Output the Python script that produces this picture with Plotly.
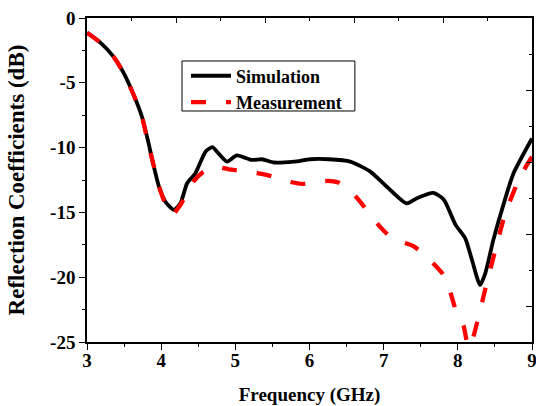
import plotly.graph_objects as go

# Simulation (black solid)
sim_f = [3.00, 3.18, 3.36, 3.49, 3.63, 3.74, 3.83, 3.88, 3.97, 4.06, 4.17, 4.26, 4.35, 4.46,
         4.60, 4.69, 4.77, 4.89, 5.02, 5.22, 5.36, 5.52, 5.79, 6.01, 6.26, 6.55, 6.82, 7.04,
         7.31, 7.45, 7.67, 7.81, 7.97, 8.10, 8.19, 8.30, 8.37, 8.48, 8.62, 8.75, 9.00]
sim_db = [-1.13, -1.9, -3.0, -4.2, -5.94, -7.6, -9.66, -10.95, -13.0, -14.2, -14.8, -14.3, -12.75, -12.0,
          -10.3, -9.97, -10.43, -11.08, -10.6, -10.95, -10.9, -11.15, -11.08, -10.9, -10.9, -11.08, -11.85, -13.0,
          -14.3, -13.9, -13.5, -14.0, -15.96, -17.0, -18.65, -20.6, -19.7, -17.1, -14.3, -12.0, -9.3]

# Measurement (red dashed)
meas_f = [3.00, 3.18, 3.36, 3.49, 3.63, 3.74, 3.83, 3.90, 3.97, 4.06, 4.15, 4.25, 4.35, 4.44,
          4.56, 4.71, 4.90, 5.22, 5.42, 5.70, 5.90, 6.24, 6.39, 6.55, 6.70, 6.95, 7.11, 7.40,
          7.56, 7.79, 7.88, 7.97, 8.08, 8.14, 8.19, 8.39, 8.53, 8.64, 8.84, 9.00]
meas_db = [-1.13, -1.9, -3.0, -4.2, -5.94, -7.6, -9.8, -11.4, -13.0, -14.4, -15.2, -14.5, -13.5, -12.6,
           -11.9, -11.46, -11.66, -11.9, -12.1, -12.6, -12.8, -12.57, -12.7, -13.3, -14.3, -16.1, -17.0, -17.6,
           -18.3, -19.7, -20.8, -22.5, -23.8, -25.4, -24.96, -20.45, -17.37, -15.06, -12.24, -10.7]

x_ticks = [3, 4, 5, 6, 7, 8, 9]
x_ticktext = ["3", "4", "5", "6", "7", "8", "9"]
y_ticks = [0, -5, -10, -15, -20, -25]
y_ticktext = ["0", "-5", "-10", "-15", "-20", "-25"]

FONT = "Liberation Serif, Times New Roman, serif"

fig = go.Figure()
fig.add_trace(go.Scatter(x=sim_f, y=sim_db, mode="lines", name="Simulation",
                         line=dict(color="black", width=3.8, shape="spline", smoothing=0.6)))
fig.add_trace(go.Scatter(x=meas_f, y=meas_db, mode="lines", name="Measurement",
                         line=dict(color="#ff0000", width=4.3, dash="15px,20px", shape="spline", smoothing=0.5)))
# dummy trace to carry the mirrored top/right axes
fig.add_trace(go.Scatter(x=[None], y=[None], xaxis="x2", yaxis="y2", showlegend=False,
                         hoverinfo="skip"))

# legend frame
fig.add_shape(type="rect", xref="paper", yref="paper",
              x0=0.2135, x1=0.602, y0=0.713, y1=0.8673,
              line=dict(color="black", width=1), fillcolor="white", layer="above")

fig.update_layout(
    width=536, height=406,
    margin=dict(l=87, r=4, t=18, b=64, autoexpand=False),
    paper_bgcolor="white", plot_bgcolor="white",
    font=dict(family=FONT, color="black", size=18, weight=700),
    showlegend=True,
    legend=dict(x=0.2225, y=0.878, xanchor="left", yanchor="top",
                borderwidth=0, bgcolor="rgba(0,0,0,0)",
                font=dict(family=FONT, size=18, weight=700),
                tracegroupgap=0, itemwidth=40),
    xaxis=dict(range=[3, 9], showgrid=False, zeroline=False, automargin=False,
               showline=True, linecolor="black", linewidth=1.5,
               ticks="outside", ticklen=6, tickwidth=1.2, tickcolor="black",
               tickvals=x_ticks, ticktext=x_ticktext, ticklabeloverflow="allow",
               ticklabelstandoff=-6,
               minor=dict(dtick=0.5, ticks="outside", ticklen=3, tickcolor="black", tickwidth=1.2),
               tickfont=dict(family=FONT, size=19, weight=700),
               title=dict(text="Frequency (GHz)", font=dict(family=FONT, size=19, weight=700), standoff=20)),
    yaxis=dict(range=[-25, 0], showgrid=False, zeroline=False, automargin=False,
               showline=True, linecolor="black", linewidth=1.5,
               ticks="outside", ticklen=6, tickwidth=1.2, tickcolor="black",
               tickvals=y_ticks, ticktext=y_ticktext, ticklabeloverflow="allow",
               minor=dict(dtick=2.5, ticks="outside", ticklen=3, tickcolor="black", tickwidth=1.2),
               tickfont=dict(family=FONT, size=19, weight=700),
               title=dict(text="Reflection Coefficients (dB)", font=dict(family=FONT, size=23, weight=700), standoff=19)),
    xaxis2=dict(overlaying="x", side="top", anchor="y", range=[0, 10], showgrid=False, zeroline=False,
                showline=True, linecolor="black", linewidth=1.5, showticklabels=False, automargin=False,
                ticks="inside", ticklen=5, tickwidth=1.2, tickcolor="black", dtick=2, tick0=0,
                minor=dict(dtick=1, ticks="inside", ticklen=3, tickcolor="black", tickwidth=1.2)),
    yaxis2=dict(overlaying="y", side="right", anchor="x", range=[0, 9], showgrid=False, zeroline=False,
                showline=True, linecolor="black", linewidth=1.5, showticklabels=False, automargin=False,
                ticks="inside", ticklen=6, tickwidth=1.2, tickcolor="black", dtick=2, tick0=1,
                minor=dict(dtick=1, ticks="inside", ticklen=3, tickcolor="black", tickwidth=1.2)),
)

fig.write_html("out.html")
